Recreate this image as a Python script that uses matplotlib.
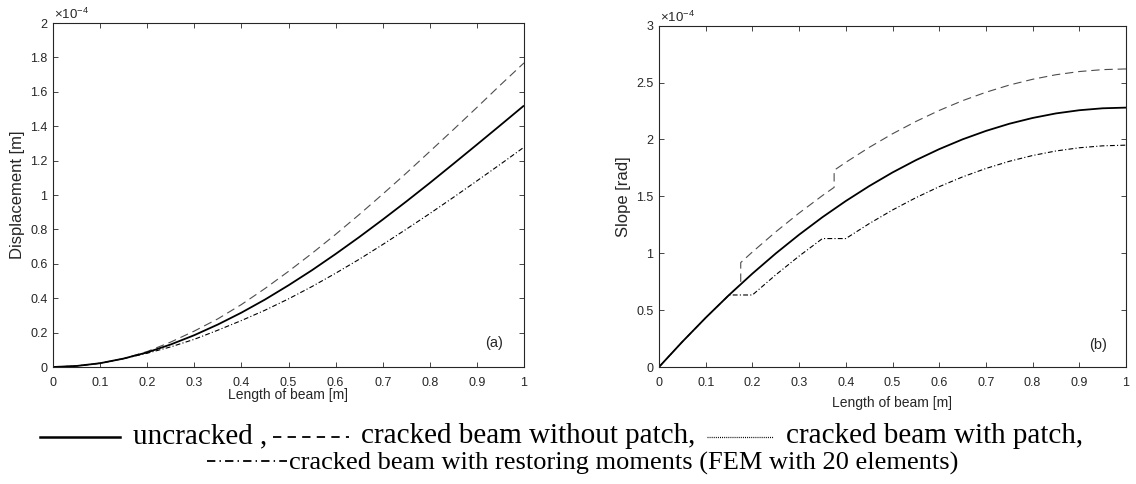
import matplotlib
matplotlib.use("Agg")
import matplotlib.pyplot as plt
from matplotlib.lines import Line2D

plt.rcParams['font.family'] = ['Liberation Sans', 'DejaVu Sans']
plt.rcParams['mathtext.fontset'] = 'custom'
plt.rcParams['mathtext.rm'] = 'Liberation Sans'
plt.rcParams['mathtext.it'] = 'Liberation Sans:italic'
plt.rcParams['lines.scale_dashes'] = False

# ---------------- data (values in units of 1e-4) ----------------
x_ticks = [0, 0.1, 0.2, 0.3, 0.4, 0.5, 0.6, 0.7, 0.8, 0.9, 1]
x_tick_labels = ['0', '0.1', '0.2', '0.3', '0.4', '0.5', '0.6', '0.7', '0.8', '0.9', '1']
disp_ticks = [0, 0.2, 0.4, 0.6, 0.8, 1.0, 1.2, 1.4, 1.6, 1.8, 2.0]
disp_tick_labels = ['0', '0.2', '0.4', '0.6', '0.8', '1', '1.2', '1.4', '1.6', '1.8', '2']
slope_ticks = [0, 0.5, 1.0, 1.5, 2.0, 2.5, 3.0]
slope_tick_labels = ['0', '0.5', '1', '1.5', '2', '2.5', '3']

x_grid = [0, 0.05, 0.1, 0.15, 0.2, 0.25, 0.3, 0.35, 0.4, 0.45, 0.5,
          0.55, 0.6, 0.65, 0.7, 0.75, 0.8, 0.85, 0.9, 0.95, 1.0]

# (a) displacement
disp_uncracked = [0, 0.006, 0.022, 0.049, 0.085, 0.131, 0.185, 0.247, 0.316, 0.392, 0.475,
                  0.563, 0.657, 0.755, 0.857, 0.962, 1.070, 1.181, 1.293, 1.406, 1.520]
disp_no_patch = [0, 0.006, 0.022, 0.049, 0.090, 0.145, 0.209, 0.280, 0.363, 0.456, 0.556,
                 0.661, 0.771, 0.886, 1.005, 1.127, 1.253, 1.380, 1.509, 1.640, 1.768]
disp_restoring = [0, 0.006, 0.022, 0.049, 0.080, 0.117, 0.161, 0.214, 0.270, 0.330, 0.396,
                  0.468, 0.545, 0.626, 0.712, 0.801, 0.892, 0.986, 1.082, 1.179, 1.278]

# (b) slope
slope_uncracked = [0, 0.222, 0.433, 0.633, 0.821, 0.998, 1.163, 1.317, 1.459, 1.590, 1.710,
                   1.818, 1.915, 2.001, 2.075, 2.138, 2.189, 2.229, 2.257, 2.274, 2.280]
x_no_patch = [0, 0.05, 0.1, 0.15, 0.175, 0.175, 0.2, 0.25, 0.3, 0.35, 0.375, 0.375,
              0.4, 0.45, 0.5, 0.55, 0.6, 0.65, 0.7, 0.75, 0.8, 0.85, 0.9, 0.95, 1.0]
slope_no_patch = [0, 0.222, 0.433, 0.633, 0.728, 0.918, 1.011, 1.188, 1.353, 1.507, 1.579,
                  1.729, 1.799, 1.930, 2.050, 2.158, 2.255, 2.341, 2.415, 2.478, 2.529,
                  2.569, 2.597, 2.614, 2.620]
slope_restoring = [0, 0.222, 0.433, 0.633, 0.633, 0.810, 0.975, 1.129, 1.129, 1.260, 1.380,
                   1.488, 1.585, 1.671, 1.745, 1.808, 1.859, 1.899, 1.927, 1.944, 1.950]

W, H = 1136, 484
fig = plt.figure(figsize=(W / 100, H / 100), dpi=100)

def fx(px):
    return px / W

def fy(py):
    return 1 - py / H

tick_color = '#262626'
style_solid = dict(color='black', lw=1.3, solid_capstyle='butt')
style_dash = dict(color='#4d4d4d', lw=0.8, linestyle=(0, (6, 3.5)))
style_dashdot = dict(color='black', lw=0.8, linestyle=(0, (3.5, 1.6, 0.8, 1.6)))

def setup(ax, yticks, ylabels, ymax, ylabel, xlabel_y):
    ax.set_xlim(0, 1)
    ax.set_ylim(0, ymax)
    ax.set_xticks(x_ticks)
    ax.set_xticklabels(x_tick_labels)
    ax.set_yticks(yticks)
    ax.set_yticklabels(ylabels)
    ax.tick_params(direction='in', length=3.5, width=0.6, colors=tick_color,
                   labelsize=9, top=True, right=True, pad=4)
    ax.tick_params(axis='x', pad=7)
    for s in ax.spines.values():
        s.set_color(tick_color)
        s.set_linewidth(0.8)
    ax.set_xlabel('Length of beam [m]', fontsize=10, color=tick_color)
    ax.xaxis.set_label_coords(0.5, xlabel_y)
    ax.set_ylabel(ylabel, fontsize=12, color=tick_color, labelpad=4)

# left panel
ax1 = fig.add_axes([fx(53), fy(367), fx(524) - fx(53), fy(23) - fy(367)])
ax1.plot(x_grid, disp_no_patch, **style_dash)
ax1.plot(x_grid, disp_restoring, **style_dashdot)
ax1.plot(x_grid, disp_uncracked, **style_solid)
setup(ax1, disp_ticks, disp_tick_labels, 2.0, 'Displacement [m]', -0.062)
ax1.text(0.937, 0.07, '(a)', transform=ax1.transAxes, ha='center', va='center',
         fontsize=10.5, color=tick_color)
fig.text(fx(54), fy(19), r'$\times$10$^{-4}$', fontsize=9.5, color=tick_color,
         ha='left', va='baseline')

# right panel
ax2 = fig.add_axes([fx(659), fy(367), fx(1126) - fx(659), fy(25.7) - fy(367)])
ax2.plot(x_no_patch, slope_no_patch, **style_dash)
ax2.plot(x_grid, slope_restoring, **style_dashdot)
ax2.plot(x_grid, slope_uncracked, **style_solid)
setup(ax2, slope_ticks, slope_tick_labels, 3.0, 'Slope [rad]', -0.085)
ax2.text(0.94, 0.064, '(b)', transform=ax2.transAxes, ha='center', va='center',
         fontsize=10.5, color=tick_color)
fig.text(fx(660), fy(22), r'$\times$10$^{-4}$', fontsize=9.5, color=tick_color,
         ha='left', va='baseline')

# caption-style legend below the panels, laid out left to right
serif = ['Liberation Serif', 'DejaVu Serif']
renderer = fig.canvas.get_renderer()

def flow(items, x, line_y, base_y, size):
    for kind, val, gap_after in items:
        if kind == 'line':
            length, ls, lw = val
            fig.add_artist(Line2D([fx(x), fx(x + length)], [fy(line_y)] * 2,
                                  transform=fig.transFigure, color='black',
                                  lw=lw, linestyle=ls))
            x += length
        else:
            t = fig.text(fx(x), fy(base_y), val, family=serif, fontsize=size,
                         color='black', va='baseline', ha='left')
            x += t.get_window_extent(renderer).width
        x += gap_after
    return x

flow([
    ('line', (80, '-', 1.8), 13),
    ('text', 'uncracked ,', 6),
    ('line', (76, (0, (6, 4.5)), 1.3), 12),
    ('text', 'cracked beam without patch,', 11),
    ('line', (66, (0, (0.7, 0.8)), 0.9), 13),
    ('text', 'cracked beam with patch,', 0),
], 40, 437, 443, 21)

flow([
    ('line', (80, (0, (6, 3, 1, 3)), 1.3), 2),
    ('text', 'cracked beam with restoring moments (FEM with 20 elements)', 0),
], 207, 461, 470, 19)

fig.savefig('out.png', dpi=100)
